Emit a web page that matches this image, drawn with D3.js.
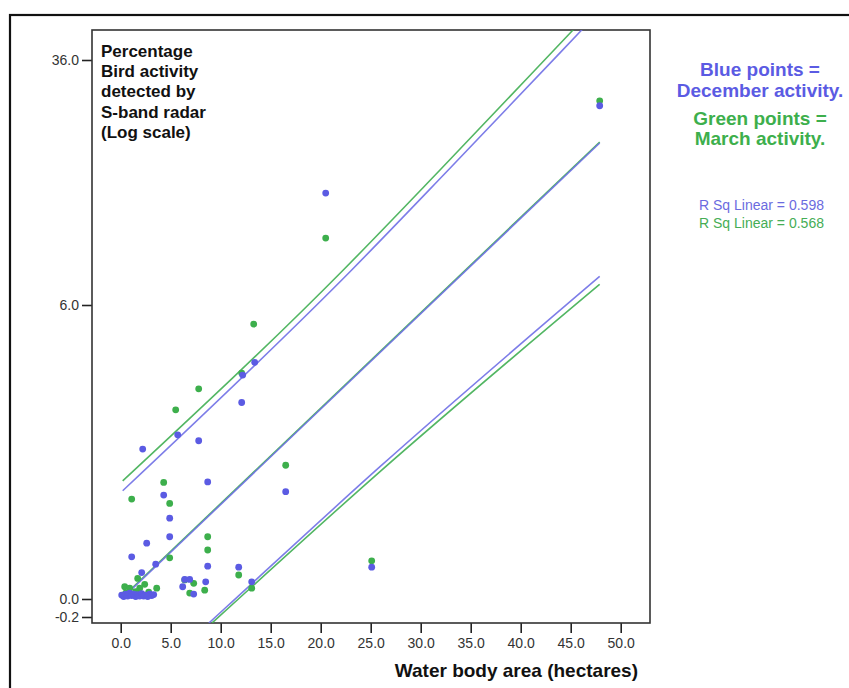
<!DOCTYPE html>
<html>
<head>
<meta charset="utf-8">
<script src="https://cdn.jsdelivr.net/npm/d3@7"></script>
<style>
  html, body { margin: 0; padding: 0; background: #fff; }
  svg { display: block; }
</style>
</head>
<body>
<svg id="chart" width="849" height="688"></svg>
<script>
// ---------------- DATA ----------------
const xTickValues = [0, 5, 10, 15, 20, 25, 30, 35, 40, 45, 50];
const yTickValues = [-0.2, 0, 6, 36];
const yTickLabels = ["-0.2", "0.0", "6.0", "36.0"];

// December activity (blue): [area, % activity]
const decemberPoints = [
  [47.9, 30.4], [20.5, 19.7], [13.4, 4.83], [12.2, 4.57], [12.1, 4.01],
  [7.8, 3.23], [5.7, 3.35], [2.2, 3.06], [4.3, 2.12], [8.7, 2.39],
  [16.5, 2.19], [4.9, 1.65], [4.9, 1.27], [2.6, 1.14], [1.1, 0.86],
  [3.5, 0.71], [8.7, 0.67], [11.8, 0.65], [2.1, 0.54], [25.1, 0.65],
  [13.1, 0.35], [6.4, 0.40], [6.9, 0.40], [6.2, 0.25], [8.5, 0.35],
  [7.3, 0.10],
  [0.1, 0.08], [0.3, 0.05], [0.5, 0.10], [0.7, 0.06], [0.9, 0.12],
  [1.1, 0.07], [1.3, 0.10], [1.5, 0.05], [1.7, 0.09], [1.9, 0.06],
  [2.1, 0.11], [2.3, 0.06], [2.5, 0.08], [2.7, 0.05], [2.9, 0.10],
  [3.1, 0.07], [3.3, 0.09]
];

// March activity (green): [area, % activity]
const marchPoints = [
  [47.9, 31.0], [20.5, 14.2], [13.3, 5.61], [12.1, 4.61], [7.8, 4.29],
  [5.5, 3.86], [4.3, 2.38], [1.1, 2.04], [4.9, 1.95], [16.5, 2.73],
  [8.7, 1.27], [8.7, 1.00], [4.9, 0.84], [11.8, 0.49], [25.1, 0.78],
  [13.1, 0.22], [1.7, 0.42], [6.4, 0.39], [7.3, 0.32], [8.4, 0.18],
  [6.9, 0.12], [0.4, 0.25], [2.4, 0.30], [3.6, 0.22], [0.9, 0.22],
  [1.9, 0.22], [0.5, 0.12], [1.5, 0.15], [2.8, 0.14]
];

// Fit lines and prediction bands
const decemberFit   = [[0.2, 0.02], [47.9, 25.84]];
const decemberUpper = [[0.2, 2.21], [23.1, 10.29], [32.76, 22.53], [46.1, 39.67], [47.9, 41.99]];
const decemberLower = [[8.82, -0.267], [10.43, -0.103], [25.93, 2.70], [47.9, 9.5]];
const marchFit      = [[0.2, 0.04], [47.9, 25.96]];
const marchUpper    = [[0.2, 2.41], [22.26, 10.29], [31.93, 22.53], [45.23, 39.67], [47.9, 43.11]];
const marchLower    = [[9.13, -0.267], [25.93, 2.60], [47.9, 8.53]];

const legendBlue  = ["Blue points =", "December activity."];
const legendGreen = ["Green points =", "March activity."];
const rsqLabels   = ["R Sq Linear = 0.598", "R Sq Linear = 0.568"];
const yTitleLines = ["Percentage", "Bird activity", "detected by", "S-band radar", "(Log scale)"];
const xTitle = "Water body area (hectares)";

// ---------------- LAYOUT ----------------
const blue = "#5b5be3", green = "#3daf4c";
const blueLine = "#6f6fe6", greenLine = "#3fae52";
const plot = { left: 92, top: 30, right: 650, bottom: 623 };
const svg = d3.select("#chart");

// Outer border
svg.append("rect").attr("x", 10).attr("y", 15).attr("width", 900).attr("height", 740)
  .attr("fill", "none").attr("stroke", "#111").attr("stroke-width", 2.2);

const x = d3.scaleLinear().domain([-2.87, 52.93]).range([plot.left, plot.right]);
// SPSS log-style axis: piecewise mapping through the tick positions
const y = d3.scaleLinear().domain(yTickValues).range([617, 599, 305, 60]);

// clip
svg.append("clipPath").attr("id", "clip").append("rect")
  .attr("x", plot.left).attr("y", plot.top)
  .attr("width", plot.right - plot.left).attr("height", plot.bottom - plot.top);

// Axes
const fontTick = "'Liberation Sans', Arial, sans-serif";
const xAxis = svg.append("g").attr("transform", `translate(0,${plot.bottom})`)
  .call(d3.axisBottom(x).tickValues(xTickValues).tickFormat(d3.format(".1f")).tickSize(10).tickPadding(5));
const yAxis = svg.append("g").attr("transform", `translate(${plot.left},0)`)
  .call(d3.axisLeft(y).tickValues(yTickValues).tickFormat((d, i) => yTickLabels[i]).tickSize(10).tickPadding(3));
[xAxis, yAxis].forEach(g => {
  g.select(".domain").remove();
  g.selectAll(".tick line").attr("stroke", "#222").attr("stroke-width", 1.6);
  g.selectAll(".tick text").attr("fill", "#333").attr("font-family", fontTick).attr("font-size", 14);
});

// Plot frame
svg.append("rect").attr("x", plot.left).attr("y", plot.top)
  .attr("width", plot.right - plot.left).attr("height", plot.bottom - plot.top)
  .attr("fill", "none").attr("stroke", "#333").attr("stroke-width", 1.6);

// Lines
const line = d3.line().x(d => x(d[0])).y(d => y(d[1])).curve(d3.curveMonotoneX);
const lg = svg.append("g").attr("clip-path", "url(#clip)");
[[marchUpper, greenLine], [marchLower, greenLine], [decemberUpper, blueLine], [decemberLower, blueLine],
 [marchFit, greenLine], [decemberFit, blueLine]].forEach(([data, c]) => {
  lg.append("path").datum(data).attr("d", line).attr("fill", "none")
    .attr("stroke", c).attr("stroke-width", 1.6).attr("stroke-opacity", 0.9);
});

// Points (green first, blue on top)
const pg = svg.append("g").attr("clip-path", "url(#clip)");
pg.selectAll("circle.m").data(marchPoints).join("circle").attr("class", "m")
  .attr("cx", d => x(d[0])).attr("cy", d => y(d[1])).attr("r", 3.4).attr("fill", green);
pg.selectAll("circle.d").data(decemberPoints).join("circle").attr("class", "d")
  .attr("cx", d => x(d[0])).attr("cy", d => y(d[1])).attr("r", 3.4).attr("fill", blue);

// Y title inside plot
const fontBold = "'Liberation Sans', Arial, sans-serif";
svg.append("g").selectAll("text").data(yTitleLines).join("text")
  .attr("x", 101).attr("y", (d, i) => 57 + i * 20.2)
  .attr("font-family", fontBold).attr("font-weight", "bold").attr("font-size", 17)
  .attr("fill", "#111").text(d => d);

// X title
svg.append("text").attr("x", 638).attr("y", 677).attr("text-anchor", "end")
  .attr("font-family", fontBold).attr("font-weight", "bold").attr("font-size", 19)
  .attr("fill", "#111").text(xTitle);

// Legend
svg.append("g").selectAll("text").data(legendBlue).join("text")
  .attr("x", 760).attr("y", (d, i) => 76 + i * 21).attr("text-anchor", "middle")
  .attr("font-family", fontBold).attr("font-weight", "bold").attr("font-size", 19)
  .attr("fill", blue).text(d => d);
svg.append("g").selectAll("text").data(legendGreen).join("text")
  .attr("x", 760).attr("y", (d, i) => 125 + i * 20).attr("text-anchor", "middle")
  .attr("font-family", fontBold).attr("font-weight", "bold").attr("font-size", 19)
  .attr("fill", green).text(d => d);
svg.append("g").selectAll("text").data(rsqLabels).join("text")
  .attr("x", 761.5).attr("y", (d, i) => 210 + i * 18).attr("text-anchor", "middle")
  .attr("font-family", fontTick).attr("font-size", 14)
  .attr("fill", (d, i) => i === 0 ? "#6b6be0" : "#45ad55").text(d => d);
</script>
</body>
</html>
